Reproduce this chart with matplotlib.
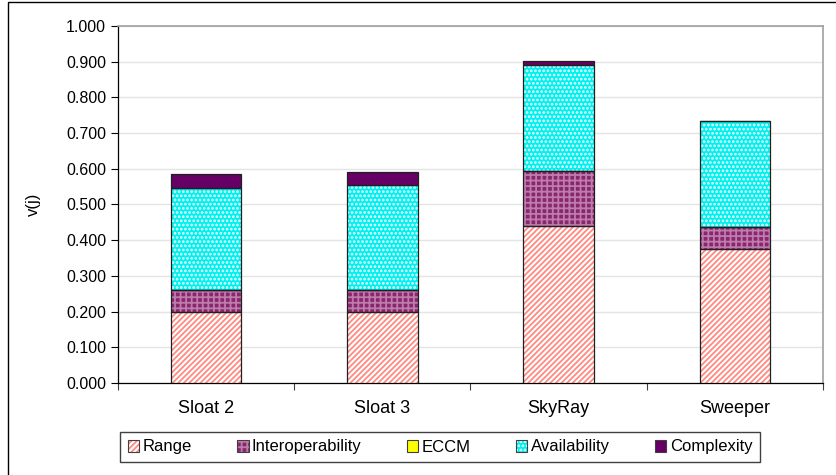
import numpy as np
import matplotlib
matplotlib.use("Agg")
import matplotlib.pyplot as plt
from matplotlib.patches import Patch, Rectangle
from matplotlib.legend_handler import HandlerTuple
from matplotlib.ticker import FormatStrFormatter, MultipleLocator, FixedLocator

plt.rcParams['font.family'] = ['Liberation Sans', 'DejaVu Sans']
plt.rcParams['hatch.linewidth'] = 1.3

categories = ['Sloat 2', 'Sloat 3', 'SkyRay', 'Sweeper']
range_v = [0.200, 0.200, 0.440, 0.375]
interop_v = [0.060, 0.060, 0.154, 0.062]
eccm_v = [0.000, 0.000, 0.000, 0.000]
avail_v = [0.286, 0.295, 0.296, 0.296]
complex_v = [0.039, 0.035, 0.013, 0.000]

series = [
    ('Range', range_v, dict(facecolor='white', hatch='//////', edgecolor='#ff8a80')),
    ('Interoperability', interop_v, dict(facecolor='#88286c', hatch='+++', edgecolor='#bf7aae')),
    ('ECCM', eccm_v, dict(facecolor='#ffff00', hatch='', edgecolor='#ffff00')),
    ('Availability', avail_v, dict(facecolor='#00f0f0', hatch='....', edgecolor='#f4ffff')),
    ('Complexity', complex_v, dict(facecolor='#660066', hatch='', edgecolor='#660066')),
]

fig = plt.figure(figsize=(8.37, 4.75), dpi=100)
ax = fig.add_axes([118 / 837, (475 - 383) / 475, (823 - 118) / 837, (383 - 26) / 475])

x = np.arange(len(categories))
width = 0.4
bottom = np.zeros(len(categories))
handles = []
for name, vals, style in series:
    vals = np.array(vals)
    ax.bar(x, vals, width, bottom=bottom, linewidth=0, zorder=3, **style)
    ax.bar(x, vals, width, bottom=bottom, fill=False, edgecolor='#202020',
           linewidth=0.9, zorder=4)
    bottom += vals
    handles.append((Patch(linewidth=0, **style),
                    Patch(fill=False, edgecolor='#404040', linewidth=0.8)))

ax.set_xlim(-0.5, 3.5)
ax.set_ylim(0, 1.0)
ax.yaxis.set_major_locator(MultipleLocator(0.1))
ax.yaxis.set_major_formatter(FormatStrFormatter('%.3f'))
ax.grid(axis='y', color='#e4e4e4', linewidth=1, zorder=0)
ax.set_axisbelow(True)

ax.set_xticks(x)
ax.set_xticklabels(categories, fontsize=13)
ax.xaxis.set_minor_locator(FixedLocator([-0.5, 0.5, 1.5, 2.5, 3.5]))
ax.tick_params(axis='x', which='major', length=0, pad=12)
ax.tick_params(axis='x', which='minor', length=5, width=0.8, color='#404040')
ax.tick_params(axis='y', length=5, width=0.8, labelsize=11.5)
ax.set_ylabel('v(j)', fontsize=12, labelpad=18)

for s in ('top', 'right'):
    ax.spines[s].set_color('#a0a0a0')
    ax.spines[s].set_linewidth(1.2)
for s in ('left', 'bottom'):
    ax.spines[s].set_color('black')
    ax.spines[s].set_linewidth(0.9)

leg = fig.legend(handles, [s[0] for s in series],
                 handler_map={tuple: HandlerTuple(ndivide=1, pad=0)},
                 loc='center', bbox_to_anchor=(440 / 837, 1 - 447 / 475),
                 ncol=5, fontsize=12, handlelength=0.7, handleheight=0.7,
                 handletextpad=0.2, columnspacing=2.7, borderpad=0.45,
                 fancybox=False, framealpha=1)
leg.get_frame().set_edgecolor('#404040')
leg.get_frame().set_linewidth(1.0)

fig.patches.append(Rectangle((8 / 837, -0.05), 1.0, 1.05 - 2 / 475,
                             transform=fig.transFigure, fill=False,
                             edgecolor='black', linewidth=1.0))

fig.savefig('out.png', dpi=100)
